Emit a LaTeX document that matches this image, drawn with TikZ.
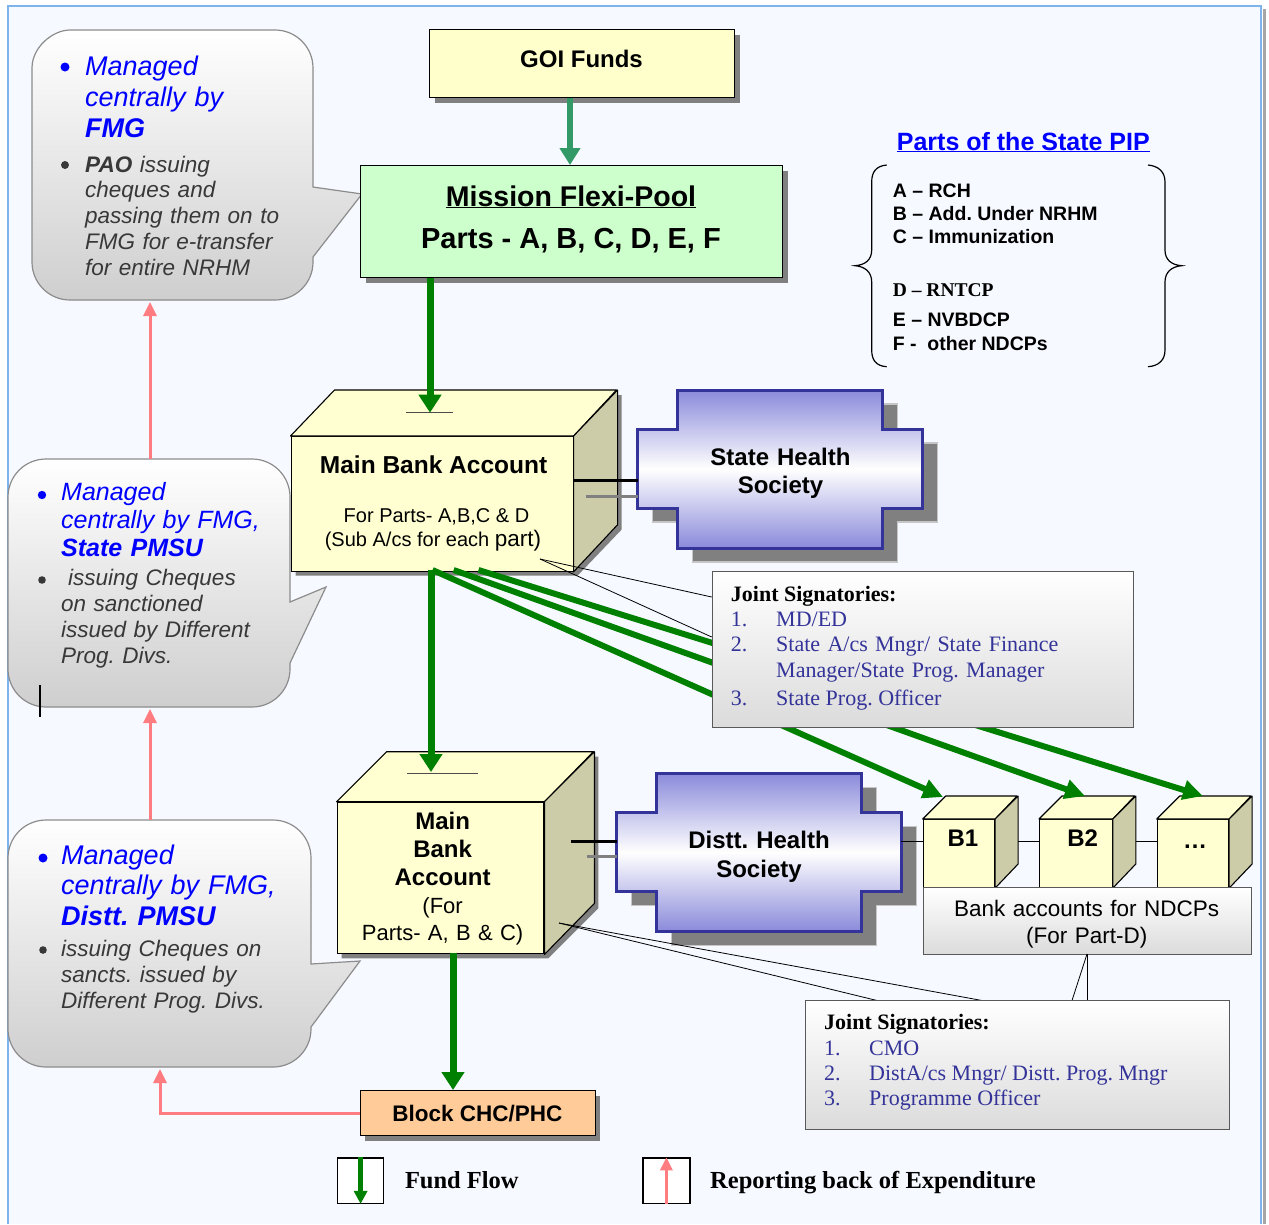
\documentclass[tikz,border=0pt]{standalone}
\usepackage{fontspec}
\setmainfont{Liberation Sans}
\newfontfamily\tmsfont{Liberation Serif}
\usetikzlibrary{arrows.meta,shadows,calc}
\definecolor{bgblue}{HTML}{F6F9FF}
\definecolor{framebl}{HTML}{7FB3EC}
\definecolor{fundgreen}{HTML}{008000}
\definecolor{tealg}{HTML}{339966}
\definecolor{pinkr}{HTML}{FF7C80}
\definecolor{cubeyel}{HTML}{FFFFD2}
\definecolor{cubeside}{HTML}{CCCCA8}
\definecolor{boxyel}{HTML}{FFFFCC}
\definecolor{flexigr}{HTML}{CCFFCC}
\definecolor{blockor}{HTML}{FFCC99}
\definecolor{plaqueblue}{HTML}{8A8ADB}
\definecolor{plaqueedge}{HTML}{333399}
\definecolor{shgray}{HTML}{808080}
\definecolor{sigblue}{HTML}{333399}
\definecolor{calloutedge}{HTML}{8C8C8C}
\definecolor{grtext}{HTML}{383838}
\definecolor{pureblue}{HTML}{0000FF}
\newcommand\myfs[2]{\fontsize{#1}{#2}\selectfont}
\tikzset{
  fund/.style={draw=fundgreen,line width=7pt,-{Triangle[length=18pt,width=22pt]}},
  funddiag/.style={draw=fundgreen,line width=6pt,-{Triangle[length=20pt,width=19pt]}},
  tealarr/.style={draw=tealg,line width=6pt,-{Triangle[length=17pt,width=20pt]}},
  report/.style={draw=pinkr,line width=3pt,-{Triangle[length=14pt,width=13pt]}},
  flatbox/.style={draw=black,line width=1.2pt,inner sep=0pt,anchor=north west,
    drop shadow={shadow xshift=5pt,shadow yshift=-5pt,opacity=1,fill=shgray}},
  cubefront/.style={draw=black,line width=1.1pt,fill=cubeyel,inner sep=0pt,anchor=north west},
  cubetop/.style={draw=black,line width=1.1pt,fill=cubeyel,line join=round},
  cubesidef/.style={draw=black,line width=1.1pt,fill=cubeside,line join=round},
  plaquefill/.style={draw=plaqueedge,line width=3pt,top color=plaqueblue,bottom color=plaqueblue,middle color=white},
  plaqueshadow/.style={fill=shgray,draw=gray!45,line width=1.5pt},
  sigbox/.style={draw=black!65,line width=1.2pt,top color=white,bottom color=black!14,inner sep=0pt,anchor=north west},
  bubble/.style={draw=calloutedge,line width=1.2pt,top color=white,bottom color=black!19},
  ptr/.style={draw=black,line width=0.8pt},
  linkline/.style={draw=black,line width=0.9pt},
  txt/.style={inner sep=0pt},
  pics/plaqueshape/.style={code={
    \path[plaqueshadow] (55,14) -- (260,14) -- (260,53) -- (300,53) -- (300,132) -- (260,132) -- (260,172) -- (55,172) -- (55,132) -- (15,132) -- (15,53) -- (55,53) -- cycle;
    \path[plaquefill] (40,0) -- (245,0) -- (245,39) -- (285,39) -- (285,118) -- (245,118) -- (245,158) -- (40,158) -- (40,118) -- (0,118) -- (0,39) -- (40,39) -- cycle;
  }}
}
\begin{document}
\frenchspacing
\begin{tikzpicture}[x=1pt,y=-1pt]
\useasboundingbox (0,0) rectangle (1269,1224);
% background and frame
\fill[white] (0,0) rectangle (1269,1224);
\fill[bgblue] (8,6) rectangle (1261,1224);
\draw[shgray!70,line width=3pt] (1264.5,9) -- (1264.5,1224);
\draw[framebl,line width=2pt] (8,1224) -- (8,6) -- (1261,6) -- (1261,1224);

% ---------- callout 1
\path[bubble] (32,68) .. controls (32,47) and (53,30) .. (70,30) -- (275,30) .. controls (296,30) and (313,47) .. (313,68) -- (313,187) -- (362,194) -- (313,257) -- (313,262) .. controls (313,283) and (296,300) .. (275,300) -- (70,300) .. controls (49,300) and (32,283) .. (32,262) -- cycle;
\fill[pureblue] (65,67) circle[radius=4.5pt];
\fill[grtext] (65,165) circle[radius=4pt];
\node[txt,anchor=base west,text width=240pt,align=left,font=\myfs{27}{31}\itshape,text=pureblue] (c1a) at (85,75) {Managed\\centrally by\\\textbf{FMG}};
\node[txt,anchor=base west,text width=240pt,align=left,font=\myfs{22.5}{25.8}\itshape,text=grtext] (c1b) at (85,172) {\textbf{PAO} issuing\\cheques and\\passing them on to\\FMG for e-transfer\\for entire NRHM};

% ---------- callout 2
\path[bubble] (8,497) .. controls (8,476) and (25,459) .. (46,459) -- (252,459) .. controls (273,459) and (290,476) .. (290,497) -- (290,602) -- (326,587) -- (290,663) -- (290,669) .. controls (290,690) and (273,707) .. (252,707) -- (46,707) .. controls (25,707) and (8,690) .. (8,669) -- cycle;
\fill[pureblue] (42,495) circle[radius=4.2pt];
\fill[grtext] (42,580) circle[radius=3.8pt];
\node[txt,anchor=base west,text width=240pt,align=left,font=\myfs{25}{28.3}\itshape,text=pureblue] (c2a) at (61,500) {Managed\\centrally by FMG,\\\textbf{State PMSU}};
\node[txt,anchor=base west,text width=240pt,align=left,font=\myfs{22.5}{26}\itshape,text=grtext] (c2b) at (61,585) {\hspace*{7pt}issuing Cheques\\on sanctioned\\issued by Different\\Prog. Divs.};
\draw[black,line width=1.5pt] (40,685) -- (40,717);

% ---------- callout 3
\path[bubble] (8,858) .. controls (8,837) and (25,820) .. (46,820) -- (273,820) .. controls (294,820) and (311,837) .. (311,858) -- (311,964) -- (360,961) -- (311,1027) -- (311,1029) .. controls (311,1050) and (294,1067) .. (273,1067) -- (46,1067) .. controls (25,1067) and (8,1050) .. (8,1029) -- cycle;
\fill[pureblue] (43,858) circle[radius=4.5pt];
\fill[grtext] (43,950) circle[radius=3.8pt];
\node[txt,anchor=base west,text width=260pt,align=left,font=\myfs{27}{30.8}\itshape,text=pureblue] (c3a) at (61,864) {Managed\\centrally by FMG,\\\textbf{Distt. PMSU}};
\node[txt,anchor=base west,text width=260pt,align=left,font=\myfs{22.5}{26}\itshape,text=grtext] (c3b) at (61,956) {issuing Cheques on\\sancts. issued by\\Different Prog. Divs.};

% ---------- top boxes
\node[flatbox,fill=boxyel,minimum width=305pt,minimum height=68pt] (goi) at (429,29) {};
\node[txt,anchor=base,font=\myfs{24}{28}\bfseries] (goitxt) at (581.5,67) {GOI Funds};
\node[flatbox,fill=flexigr,minimum width=422pt,minimum height=112pt] (flexi) at (360,165) {};
\node[txt,anchor=base,font=\myfs{28.5}{32}\bfseries] (fx1) at (571,206) {\underline{Mission Flexi-Pool}};
\node[txt,anchor=base,font=\myfs{29}{33}\bfseries] (fx2) at (571,248) {Parts - A, B, C, D, E, F};
\coordinate (fxtop) at (570,165);
\draw[tealarr] (goi.south -| fxtop) -- (fxtop);

% ---------- parts of the state PIP
\node[txt,anchor=base west,font=\myfs{25}{29}\bfseries,text=pureblue] (pip) at (896.7,150) {\underline{Parts of the State PIP}};
\draw[black,line width=1.2pt] (886.7,165) .. controls (876,166) and (871.7,172) .. (871.7,182) -- (871.7,250) .. controls (871.7,260) and (865,265) .. (855,265.7) .. controls (865,266.5) and (871.7,272) .. (871.7,282) -- (871.7,350) .. controls (871.7,360) and (876,366) .. (886.7,366.7);
\draw[black,line width=1.2pt] (1148,165) .. controls (1158.7,166) and (1165,172) .. (1165,182) -- (1165,250) .. controls (1165,260) and (1171.7,265) .. (1181.7,265.7) .. controls (1171.7,266.5) and (1165,272) .. (1165,282) -- (1165,350) .. controls (1165,360) and (1158.7,366) .. (1148,366.7);
\node[txt,anchor=base west,font=\myfs{19.5}{23}\bfseries] (pa) at (892.7,197.3) {A – RCH};
\node[txt,anchor=base west,font=\myfs{19.5}{23}\bfseries] (pb) at (892.7,220) {B – Add. Under NRHM};
\node[txt,anchor=base west,font=\myfs{19.5}{23}\bfseries] (pc) at (892.7,243.3) {C – Immunization};
\node[txt,anchor=base west,font=\tmsfont\myfs{19.5}{23}\bfseries] (pd) at (892.7,296.7) {D – RNTCP};
\node[txt,anchor=base west,font=\myfs{19.5}{23}\bfseries] (pe) at (892.7,326) {E – NVBDCP};
\node[txt,anchor=base west,font=\myfs{19.5}{23}\bfseries] (pf) at (892.7,350) {F -\hspace{0.55em}other NDCPs};

% ---------- state main bank account cube
\fill[shgray] (295.5,441) -- (339.5,395) -- (621.5,395) -- (621.5,529.7) -- (577.5,575.7) -- (295.5,575.7) -- cycle;
\node[cubefront,minimum width=282pt,minimum height=134.7pt] (smba) at (290.5,436) {};
\draw[cubetop] (smba.north west) -- ++(44,-46) -- ++(282,0) -- (smba.north east) -- cycle;
\draw[cubesidef] (smba.north east) -- ++(44,-46) -- ++(0,134.7) -- (smba.south east) -- cycle;
\coordinate (sslot) at (430,412.7);
\draw[black!70,line width=1.5pt] ($(sslot)+(-24,0)$) -- ($(sslot)+(23,0)$);
\draw[fund] (flexi.south -| sslot) -- (sslot);
\node[txt,anchor=base,font=\myfs{24.5}{28}\bfseries] (sm1) at (433.6,473) {Main Bank Account};
\node[txt,anchor=base,font=\myfs{20}{24}] (sm2) at (436.5,522.7) {For Parts- A,B,C \& D};
\node[txt,anchor=base,font=\myfs{20}{24}] (sm3) at (433,546.7) {(Sub A/cs for each {\myfs{22.5}{26}part)}};

% ---------- state health society
\pic at (637.7,390) {plaqueshape};
\node[txt,anchor=base,text width=240pt,align=center,font=\myfs{24}{28.3}\bfseries] (shs) at (780.5,465) {State Health\\Society};
\coordinate (shsL) at (637.7,480);
\coordinate (shsL2) at (637.7,496);
\draw[black,line width=3pt] (shsL -| smba.east) -- (shsL);
\draw[shgray,line width=3pt] ($(shsL2)+(-51.3,0)$) -- (shsL2);

% ---------- fund flows from state account
\coordinate (d0) at (431,570);
\coordinate (d1) at (432.5,570);
\coordinate (d2) at (453.6,570);
\coordinate (d3) at (478.5,570);
\coordinate (dslot) at (431,772);
\coordinate (b1tip) at (943,797);
\coordinate (b2tip) at (1085,796);
\coordinate (b3tip) at (1203,796);

% ---------- B cubes
\node[cubefront,minimum width=71.3pt,minimum height=68pt] (b1) at (922.7,819) {};
\draw[cubetop] (b1.north west) -- ++(23,-23) -- ++(71.3,0) -- (b1.north east) -- cycle;
\draw[cubesidef] (b1.north east) -- ++(23,-23) -- ++(0,68) -- (b1.south east) -- cycle;
\node[cubefront,minimum width=72.7pt,minimum height=68pt] (b2) at (1039,819) {};
\draw[cubetop] (b2.north west) -- ++(23,-23) -- ++(72.7,0) -- (b2.north east) -- cycle;
\draw[cubesidef] (b2.north east) -- ++(23,-23) -- ++(0,68) -- (b2.south east) -- cycle;
\node[cubefront,minimum width=71.3pt,minimum height=68pt] (b3) at (1156.7,819) {};
\draw[cubetop] (b3.north west) -- ++(23,-23) -- ++(71.3,0) -- (b3.north east) -- cycle;
\draw[cubesidef] (b3.north east) -- ++(23,-23) -- ++(0,68) -- (b3.south east) -- cycle;
\node[txt,anchor=base,font=\myfs{24}{28}\bfseries] (b1t) at (963,846.7) {B1};
\node[txt,anchor=base,font=\myfs{24}{28}\bfseries] (b2t) at (1082.7,846.7) {B2};
\node[txt,anchor=base,font=\myfs{24}{28}\bfseries] (b3t) at (1195,848) {…};

\draw[funddiag] (d1) -- (b1tip);
\draw[funddiag] (d2) -- (b2tip);
\draw[funddiag] (d3) -- (b3tip);
\draw[fund] (d0) -- (dslot);

% ---------- joint signatories 1
\coordinate (js1tip) at (540,559);
\node[sigbox,minimum width=421.3pt,minimum height=155.7pt] (js1) at (711.7,571) {};
\draw[ptr] (js1tip) -- ($(js1.north west)+(0,26)$);
\draw[ptr] (js1tip) -- ($(js1.north west)+(0,66)$);
\node[txt,anchor=base west,font=\tmsfont\myfs{22}{26}\bfseries] (js1h) at (730.7,601.7) {Joint Signatories:};
\node[txt,anchor=base west,font=\tmsfont\myfs{22}{26},text=sigblue] (js1n1) at (730.7,626.7) {1.};
\node[txt,anchor=base west,font=\tmsfont\myfs{22}{26},text=sigblue] (js1n2) at (730.7,651.7) {2.};
\node[txt,anchor=base west,font=\tmsfont\myfs{22}{26},text=sigblue] (js1n3) at (730.7,705) {3.};
\node[txt,anchor=base west,font=\tmsfont\myfs{22}{26},text=sigblue] (js1i1) at (776,626.7) {MD/ED};
\node[txt,anchor=base west,text width=330pt,align=left,font=\tmsfont\myfs{22}{25.3},text=sigblue] (js1i2) at (776,651.7) {State A/cs Mngr/ State Finance\\Manager/State Prog. Manager};
\node[txt,anchor=base west,font=\tmsfont\myfs{22}{26},text=sigblue] (js1i3) at (776,705) {State Prog. Officer};

% ---------- district main bank account cube
\fill[shgray] (341.6,806.7) -- (391.6,756.7) -- (598.4,756.7) -- (598.4,908.3) -- (548.4,958.3) -- (341.6,958.3) -- cycle;
\node[cubefront,minimum width=206.8pt,minimum height=151.6pt] (dmba) at (336.6,801.7) {};
\draw[cubetop] (dmba.north west) -- ++(50,-50) -- ++(206.8,0) -- (dmba.north east) -- cycle;
\draw[cubesidef] (dmba.north east) -- ++(50,-50) -- ++(0,151.6) -- (dmba.south east) -- cycle;
\draw[black!70,line width=1.5pt] (407,773.3) -- (478,773.3);
\draw[fund] ($(dslot)+(0,-30)$) -- (dslot);
\node[txt,anchor=base,text width=200pt,align=center,font=\myfs{24}{28.2}\bfseries] (dm1) at (442.6,829.3) {Main\\Bank\\Account};
\node[txt,anchor=base,text width=200pt,align=center,font=\myfs{22}{26.7}] (dm2) at (442.6,913.3) {(For\\Parts- A, B \& C)};

% ---------- district health society
\pic at (616.6,773.3) {plaqueshape};
\node[txt,anchor=base,text width=240pt,align=center,font=\myfs{24}{29}\bfseries] (dhs) at (759,848.3) {Distt. Health\\Society};
\coordinate (dhsL) at (616.6,841);
\coordinate (dhsL2) at (616.6,856.7);
\coordinate (dhsR) at (901,841);
\draw[black,line width=3pt] ($(dhsL)+(-45.6,0)$) -- (dhsL);
\draw[shgray,line width=3pt] ($(dhsL2)+(-29.6,0)$) -- (dhsL2);
\draw[linkline] (dhsR) -- (dhsR -| b1.west);
\draw[linkline] ($(dhsR -| b1.east)+(23,0)$) -- (dhsR -| b2.west);
\draw[linkline] ($(dhsR -| b2.east)+(23,0)$) -- (dhsR -| b3.west);

% ---------- bank accounts label
\node[sigbox,minimum width=328pt,minimum height=67.3pt] (bnk) at (922.7,886.7) {};
\node[txt,anchor=base,text width=320pt,align=center,font=\myfs{22.5}{26.6}] (bnkt) at (1086.7,916.7) {Bank accounts for NDCPs\\(For Part-D)};

% ---------- joint signatories 2
\coordinate (js2tip) at (559,923);
\coordinate (bnktip) at (1087,954);
\draw[ptr] (js2tip) -- (877,1000.5);
\draw[ptr] (js2tip) -- (982,1000.5);
\draw[ptr] (bnktip) -- (1072,1000.5);
\draw[ptr] (bnktip) -- (1087,1000.5);
\node[sigbox,minimum width=424pt,minimum height=129pt] (js2) at (805,1000) {};
\node[txt,anchor=base west,font=\tmsfont\myfs{22}{26}\bfseries] (js2h) at (824,1029) {Joint Signatories:};
\node[txt,anchor=base west,font=\tmsfont\myfs{22}{26},text=sigblue] (js2n1) at (824,1055) {1.};
\node[txt,anchor=base west,font=\tmsfont\myfs{22}{26},text=sigblue] (js2n2) at (824,1080) {2.};
\node[txt,anchor=base west,font=\tmsfont\myfs{22}{26},text=sigblue] (js2n3) at (824,1105) {3.};
\node[txt,anchor=base west,font=\tmsfont\myfs{22}{26},text=sigblue] (js2i1) at (869,1055) {CMO};
\node[txt,anchor=base west,font=\tmsfont\myfs{22}{26},text=sigblue] (js2i2) at (869,1080) {DistA/cs Mngr/ Distt. Prog. Mngr};
\node[txt,anchor=base west,font=\tmsfont\myfs{22}{26},text=sigblue] (js2i3) at (869,1105) {Programme Officer};

% ---------- block
\node[flatbox,fill=blockor,minimum width=235pt,minimum height=45pt] (block) at (359.7,1090) {};
\node[txt,anchor=base,font=\myfs{22.5}{26}\bfseries] (blockt) at (477.5,1121.7) {Block CHC/PHC};
\coordinate (dmbaout) at (453,953.3);
\draw[fund] (dmbaout) -- (dmbaout |- block.north);

% ---------- reporting arrows
\coordinate (c1bot) at (150,300);
\coordinate (c2top) at (150,459);
\coordinate (c2bot) at (150,707);
\coordinate (c3top) at (150,820);
\coordinate (c3bot) at (160,1067);
\draw[report] (c2top) -- ($(c1bot)+(0,2)$);
\draw[report] (c3top) -- ($(c2bot)+(0,2)$);
\draw[report] (block.west) -- (block.west -| c3bot) -- ($(c3bot)+(0,2)$);

% ---------- legend
\node[draw=black,line width=1.2pt,fill=white,inner sep=0pt,anchor=north west,minimum width=46pt,minimum height=45.4pt] (lg1) at (337,1157.3) {};
\draw[draw=fundgreen,line width=4.5pt,-{Triangle[length=13pt,width=13pt]}] (lg1.north) -- (lg1.south);
\node[txt,anchor=base west,font=\tmsfont\myfs{24.5}{28}\bfseries] (lg1t) at (404.8,1188.3) {Fund Flow};
\node[draw=black,line width=1.2pt,fill=white,inner sep=0pt,anchor=north west,minimum width=47pt,minimum height=45.4pt] (lg2) at (642.3,1157.3) {};
\draw[draw=pinkr,line width=3pt,-{Triangle[length=13pt,width=12pt]}] (lg2.south) -- (lg2.north);
\node[txt,anchor=base west,font=\tmsfont\myfs{24.5}{28}\bfseries] (lg2t) at (710,1188.3) {Reporting back of Expenditure};
\end{tikzpicture}
\end{document}
